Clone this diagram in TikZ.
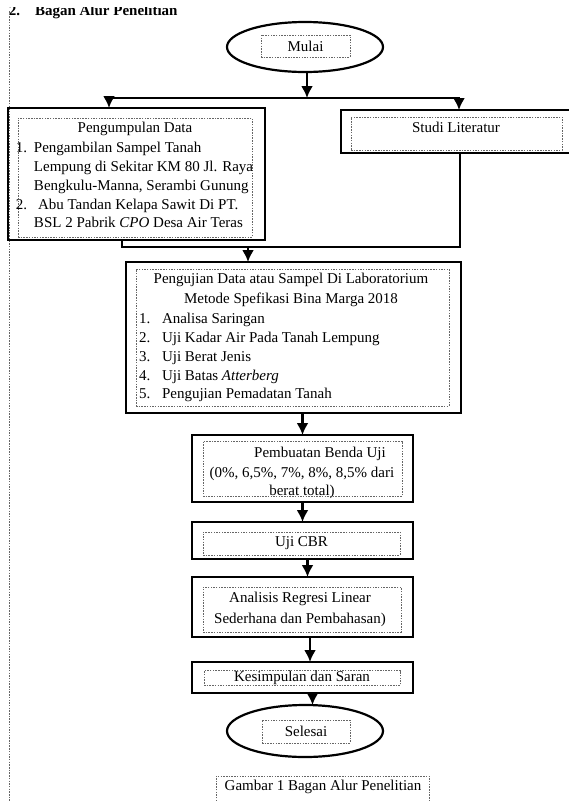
\documentclass[tikz,border=0pt]{standalone}
\usepackage{fontspec}
\setmainfont{Liberation Serif}
\usetikzlibrary{arrows.meta,shapes.geometric}
\begin{document}
\begin{tikzpicture}[x=1pt,y=-1pt,
  every node/.style={font=\fontsize{15}{19}\selectfont, inner sep=0pt, outer sep=0pt},
  obox/.style={draw, line width=2.6pt, rectangle},
  oell/.style={draw, line width=2.2pt, ellipse},
  dbox/.style={draw=black!60, line width=0.8pt, dash pattern=on 1.5pt off 1.2pt, rectangle},
  conn/.style={line width=2.2pt, line cap=rect},
  arr/.style={line width=2.2pt, -{Latex[length=12pt,width=12pt]}},
  txt/.style={anchor=base west},
  ctxt/.style={anchor=base}
]
\useasboundingbox (0,0) rectangle (569,801);

% heading (cut at top)
\begin{scope}
  \clip (0,7) rectangle (200,20);
  \node[txt, font=\fontsize{15}{19}\selectfont\bfseries] (hd1) at (9,15) {2.};
  \node[txt, font=\fontsize{15}{19}\selectfont\bfseries] (hd2) at (35,15) {Bagan Alur Penelitian};
\end{scope}
\coordinate (lt) at (9,11);
\coordinate (lb) at (9,801);
\draw[dbox] (lt) -- (lb);

% Mulai
\node[oell, minimum width=156, minimum height=50] (mulai) at (305,47) {};
\node[dbox, minimum width=89, minimum height=22] (mulaiT) at (305.5,46) {Mulai};

% Pengumpulan Data
\node[obox, minimum width=257, minimum height=132] (pd) at (136.5,174) {};
\node[dbox, minimum width=234, minimum height=119] (pdI) at (135,177.5) {};
\node[ctxt] (pd0) at (135,132) {Pengumpulan Data};
\node[txt] (pdn1) at (16,152) {1.};
\node[txt] (pd1) at (34,152) {Pengambilan Sampel Tanah};
\node[txt] (pd2) at (34,171) {Lempung di Sekitar KM 80 Jl. Raya};
\node[txt] (pd3) at (34,190) {Bengkulu-Manna, Serambi Gunung};
\node[txt] (pdn2) at (16,209) {2.};
\node[txt] (pd4) at (38,209) {Abu Tandan Kelapa Sawit Di PT.};
\node[txt] (pd5) at (34,227) {BSL 2 Pabrik \textit{CPO} Desa Air Teras};

% Studi Literatur
\node[obox, minimum width=239, minimum height=43] (sl) at (460.5,131.5) {};
\node[dbox, minimum width=211, minimum height=33] (slI) at (456.5,133.5) {};
\node[ctxt] (slT) at (456,132) {Studi Literatur};

% Pengujian
\node[obox, minimum width=335, minimum height=151] (lab) at (293.5,337.5) {};
\node[dbox, minimum width=313, minimum height=137] (labI) at (292.5,337.5) {};
\node[ctxt] (lab0) at (291,283) {Pengujian Data atau Sampel Di Laboratorium};
\node[ctxt] (lab00) at (291,303) {Metode Spefikasi Bina Marga 2018};
\node[txt] (labn1) at (139,323) {1.};
\node[txt] (lab1) at (162,323) {Analisa Saringan};
\node[txt] (labn2) at (139,342) {2.};
\node[txt] (lab2) at (162,342) {Uji Kadar Air Pada Tanah Lempung};
\node[txt] (labn3) at (139,361) {3.};
\node[txt] (lab3) at (162,361) {Uji Berat Jenis};
\node[txt] (labn4) at (139,380) {4.};
\node[txt] (lab4) at (162,380) {Uji Batas \textit{Atterberg}};
\node[txt] (labn5) at (139,398) {5.};
\node[txt] (lab5) at (162,398) {Pengujian Pemadatan Tanah};

% Pembuatan Benda Uji
\node[obox, minimum width=221, minimum height=67] (pb) at (302.5,468.5) {};
\node[dbox, minimum width=199, minimum height=55] (pbI) at (302.5,468.5) {};
\node[ctxt] (pb1) at (320,457) {Pembuatan Benda Uji};
\node[ctxt] (pb2) at (302,477) {(0\%, 6,5\%, 7\%, 8\%, 8,5\% dari};
\node[ctxt] (pb3) at (302,495) {berat total)};

% Uji CBR
\node[obox, minimum width=221, minimum height=37] (cbr) at (302.5,540.5) {};
\node[dbox, minimum width=197, minimum height=23] (cbrI) at (301.5,543.5) {Uji CBR};

% Analisis
\node[obox, minimum width=221, minimum height=60] (ar) at (302.5,607) {};
\node[dbox, minimum width=198, minimum height=45] (arI) at (302,609.5) {};
\node[ctxt] (ar1) at (300,602) {Analisis Regresi Linear};
\node[ctxt] (ar2) at (300,623) {Sederhana dan Pembahasan)};

% Kesimpulan
\node[obox, minimum width=221, minimum height=31] (ks) at (302.5,677.5) {};
\node[dbox, minimum width=196, minimum height=15] (ksI) at (302,678) {Kesimpulan dan Saran};

% Selesai
\node[oell, minimum width=156, minimum height=52] (selesai) at (305,731) {};
\node[dbox, minimum width=88, minimum height=23] (selesaiT) at (306,731.5) {Selesai};

% caption
\coordinate (c1) at (216,820);
\coordinate (c2) at (216,776);
\coordinate (c3) at (429,776);
\coordinate (c4) at (429,820);
\draw[dbox] (c1) -- (c2) -- (c3) -- (c4);
\node[ctxt] (cap) at (323,790) {Gambar 1 Bagan Alur Penelitian};

% connectors
\coordinate (hl) at (109,98);
\coordinate (hr) at (459,98);
\coordinate (hm) at (307,98);
\draw[arr] (hm |- mulai.south) -- (hm);
\draw[conn] (hl) -- (hr);
\draw[arr] (hl) -- (hl |- pd.north);
\draw[arr] (hr) -- (hr |- sl.north);

\coordinate (jr) at (460,247);
\coordinate (jl) at (122,247);
\coordinate (jm) at (248,247);
\draw[conn] (jr |- sl.south) -- (jr) -- (jl) -- (jl |- pd.south);
\draw[arr] (jm) -- (jm |- lab.north);

\draw[arr] (pb.north |- lab.south) -- (pb.north);
\draw[arr] (pb.south) -- (cbr.north);
\draw[arr] ([xshift=5pt]cbr.south) -- ([xshift=5pt]ar.north);
\draw[arr] ([xshift=7.5pt]ar.south) -- ([xshift=7.5pt]ks.north);
\draw[arr] ([xshift=10pt]ks.south) -- ([xshift=10pt]ks.south |- selesai.north);
\end{tikzpicture}
\end{document}
